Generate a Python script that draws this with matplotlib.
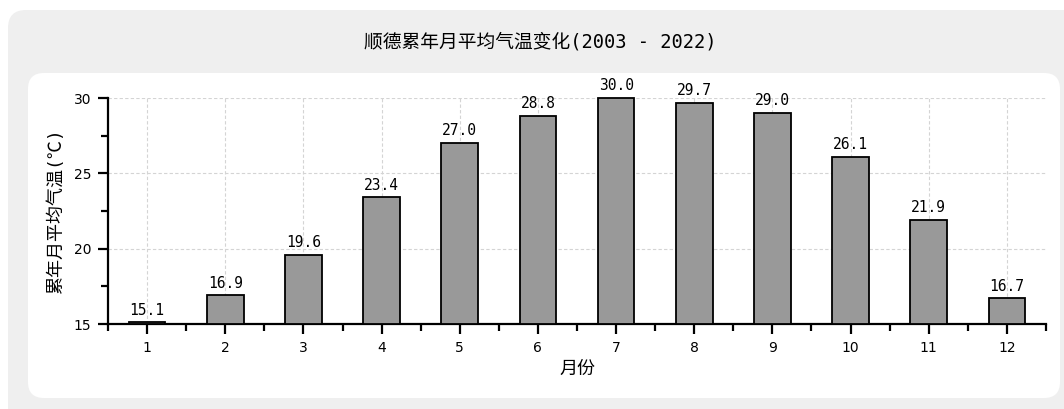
import matplotlib
matplotlib.use('Agg')
from matplotlib import pyplot as plt
from matplotlib.patches import FancyBboxPatch
from matplotlib.ticker import MultipleLocator, FixedLocator
import numpy as np

plt.rcParams['font.family'] = ['Noto Sans CJK SC', 'DejaVu Sans']
mono_cjk = ['DejaVu Sans Mono', 'Noto Sans CJK SC']   # 半角等宽 + 中文

# 数据
months = [1, 2, 3, 4, 5, 6, 7, 8, 9, 10, 11, 12]
temps = [15.1, 16.9, 19.6, 23.4, 27.0, 28.8, 30.0, 29.7, 29.0, 26.1, 21.9, 16.7]
title = '顺德累年月平均气温变化(2003 - 2022)'
y_base = 15

W, H = 1064, 409
fig = plt.figure(figsize=(W / 100, H / 100), dpi=100)
fig.patch.set_facecolor('white')

# 背景框 (像素 -> figure 坐标)
def px_box(x0, y0, x1, y1, color, r):
    box = FancyBboxPatch((x0 / W, 1 - y1 / H), (x1 - x0) / W, (y1 - y0) / H,
                         boxstyle='round,pad=0,rounding_size=%f' % (r / W),
                         transform=fig.transFigure, facecolor=color,
                         edgecolor='none', zorder=-10, mutation_aspect=W / H)
    fig.patches.append(box)

px_box(8, 10, 1090, 430, '#efefef', 18)
px_box(28, 73, 1060, 398, 'white', 16)

fig.text(540 / W, 1 - 42 / H, title, ha='center', va='center', fontsize=13.5,
         family=mono_cjk)

ax = fig.add_axes([108 / W, 1 - 324 / H, (1046 - 108) / W, (324 - 98) / H])
ax.set_facecolor('none')

heights = [t - y_base for t in temps]
bars = ax.bar(months, heights, bottom=y_base, width=0.47, color='#999999',
              edgecolor='black', linewidth=1.3, zorder=3)
for b in bars:
    b.set_clip_on(False)

for m, t in zip(months, temps):
    ax.annotate('%.1f' % t, (m, t), xytext=(0, 3.5), textcoords='offset points',
                ha='center', va='bottom', fontsize=10.5, family='DejaVu Sans Mono',
                annotation_clip=False)

ax.set_xlim(0.5, 12.5)
ax.set_ylim(y_base, 30)
ax.set_xticks(months)
ax.set_yticks([15, 20, 25, 30])
ax.xaxis.set_minor_locator(FixedLocator(np.arange(0.5, 13, 1)))
ax.yaxis.set_minor_locator(MultipleLocator(2.5))

ax.grid(True, which='major', linestyle=(0, (3, 2)), color='#d4d4d4', linewidth=0.8, zorder=0)

for s in ['top', 'right']:
    ax.spines[s].set_visible(False)
for s in ['left', 'bottom']:
    ax.spines[s].set_linewidth(1.6)

ax.tick_params(which='major', direction='out', length=7, width=1.6, labelsize=10, pad=5)
ax.tick_params(which='minor', direction='out', length=5, width=1.6)
for lab in ax.get_xticklabels() + ax.get_yticklabels():
    lab.set_family('DejaVu Sans')

ax.set_xlabel('月份', fontsize=13, labelpad=4)
ax.set_ylabel('累年月平均气温(℃)', fontsize=13, labelpad=6, family=mono_cjk)

fig.savefig('out.png', dpi=100)
